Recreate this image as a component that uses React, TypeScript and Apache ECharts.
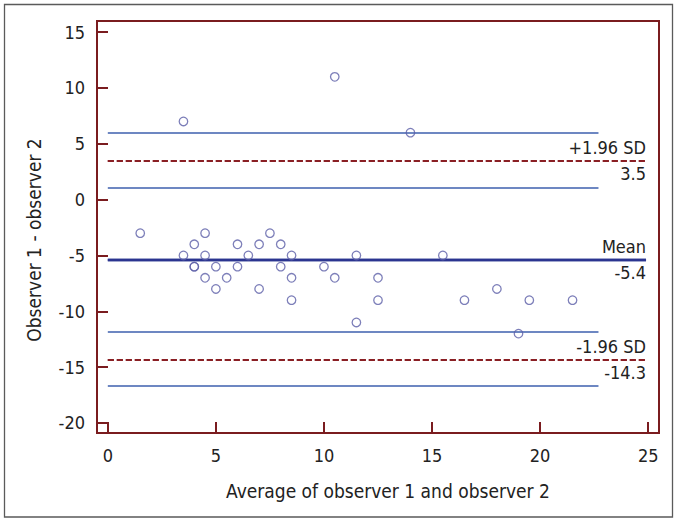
import React, { useEffect, useRef } from "react";
import * as echarts from "echarts";

// Bland-Altman data: average of the two observers vs their difference
const avgValues = [1.5, 3.5, 10.5, 14, 3.5, 4, 4, 4, 4.5, 4.5, 4.5, 5, 5, 5.5, 6, 6, 6.5, 7, 7, 7.5, 8, 8, 8.5, 8.5, 8.5, 10, 10.5, 11.5, 11.5, 12.5, 12.5, 15.5, 16.5, 18, 19, 19.5, 21.5];
const diffValues = [-3, 7, 11, 6, -5, -4, -6, -6, -3, -5, -7, -6, -8, -7, -4, -6, -5, -4, -8, -3, -4, -6, -5, -7, -9, -6, -7, -5, -11, -7, -9, -5, -9, -8, -12, -9, -9];

const meanDiff = -5.4;
const upperLoA = 3.5;
const lowerLoA = -14.3;
const ciLineValues = [6.0, 1.1, -11.8, -16.7];
const lineStartX = 0;
const ciLineEndX = 22.7;
const loaLineEndX = 24.9;

const xTickValues = [0, 5, 10, 15, 20, 25];
const yTickValues = [-20, -15, -10, -5, 0, 5, 10, 15];

const xAxisTitle = "Average of observer 1 and observer 2";
const yAxisTitle = "Observer 1 - observer 2";

const FONT = "'DejaVu Sans Condensed', 'Liberation Sans', Arial, sans-serif";
const MAROON = "#7a1c1f";
const TEXT = "#222222";

export default function App() {
  const ref = useRef<HTMLDivElement>(null);
  useEffect(() => {
    if (!ref.current) return;
    const chart = echarts.init(ref.current, undefined, { renderer: "svg" });
    const points = avgValues.map((x, i) => [x, diffValues[i]]);

    const hLine = (y: number, endX: number, lineStyle: any, label?: any) => [
      { coord: [lineStartX, y], lineStyle, label: label || { show: false } },
      { coord: [endX, y] },
    ];
    const blueStyle = { color: "#3d5fae", width: 1.6, type: "solid" };
    const dashStyle = { color: "#8a1f24", width: 2, type: [6, 3] };
    const meanStyle = { color: "#2b3590", width: 2.4, type: "solid" };
    const lbl = (text: string, pos: string) => ({
      show: true,
      position: pos,
      formatter: text,
      fontFamily: FONT,
      fontSize: 18,
      color: TEXT,
      distance: [0, 4],
    });

    chart.setOption({
      animation: false,
      backgroundColor: "#ffffff",
      grid: {
        left: 97,
        top: 21,
        right: 18,
        bottom: 89,
        show: true,
        borderColor: MAROON,
        borderWidth: 2,
        backgroundColor: "transparent",
      },
      xAxis: {
        type: "value",
        min: -0.5,
        max: 25.5,
        splitLine: { show: false },
        axisLine: { show: false, onZero: false },
        axisTick: {
          show: true,
          inside: true,
          length: 11,
          customValues: xTickValues,
          lineStyle: { color: MAROON, width: 2 },
        },
        axisLabel: {
          customValues: xTickValues,
          margin: 13,
          fontFamily: FONT,
          fontSize: 18,
          color: TEXT,
        },
      },
      yAxis: {
        type: "value",
        min: -20.9,
        max: 16,
        splitLine: { show: false },
        axisLine: { show: false, onZero: false },
        axisTick: {
          show: true,
          inside: true,
          length: 11,
          customValues: yTickValues,
          lineStyle: { color: MAROON, width: 2 },
        },
        axisLabel: {
          customValues: yTickValues,
          margin: 12,
          fontFamily: FONT,
          fontSize: 18,
          color: TEXT,
        },
      },
      graphic: [
        {
          type: "rect",
          z: -10,
          shape: { x: 4.5, y: 4.5, width: 668, height: 512.5 },
          style: { fill: "#ffffff", stroke: "#5a5a5a", lineWidth: 1.3 },
          silent: true,
        },
        {
          type: "text",
          x: 34,
          y: 240,
          rotation: Math.PI / 2,
          style: {
            text: yAxisTitle,
            fontFamily: FONT,
            fontSize: 19,
            fill: TEXT,
            textAlign: "center",
            textVerticalAlign: "middle",
          },
        },
        {
          type: "text",
          x: 388,
          y: 491,
          style: {
            text: xAxisTitle,
            fontFamily: FONT,
            fontSize: 19,
            fill: TEXT,
            textAlign: "center",
            textVerticalAlign: "middle",
          },
        },
      ],
      series: [
        {
          type: "scatter",
          data: points,
          symbol: "circle",
          symbolSize: 8.5,
          itemStyle: { color: "transparent", borderColor: "#5d5fa8", borderWidth: 1.3 },
          z: 5,
          markLine: {
            silent: true,
            symbol: ["none", "none"],
            animation: false,
            data: [
              ...ciLineValues.map((v) => hLine(v, ciLineEndX, blueStyle)),
              hLine(upperLoA, loaLineEndX, dashStyle, lbl("+1.96 SD", "insideEndTop")),
              hLine(upperLoA, loaLineEndX, dashStyle, lbl(upperLoA.toFixed(1), "insideEndBottom")),
              hLine(meanDiff, loaLineEndX, meanStyle, lbl("Mean", "insideEndTop")),
              hLine(meanDiff, loaLineEndX, meanStyle, lbl(meanDiff.toFixed(1), "insideEndBottom")),
              hLine(lowerLoA, loaLineEndX, dashStyle, lbl("-1.96 SD", "insideEndTop")),
              hLine(lowerLoA, loaLineEndX, dashStyle, lbl(lowerLoA.toFixed(1), "insideEndBottom")),
            ],
          },
        },
      ],
    });
    return () => chart.dispose();
  }, []);
  return (
    <div
      ref={ref}
      style={{ position: "absolute", left: 0, top: 0, width: 677, height: 522 }}
    />
  );
}
